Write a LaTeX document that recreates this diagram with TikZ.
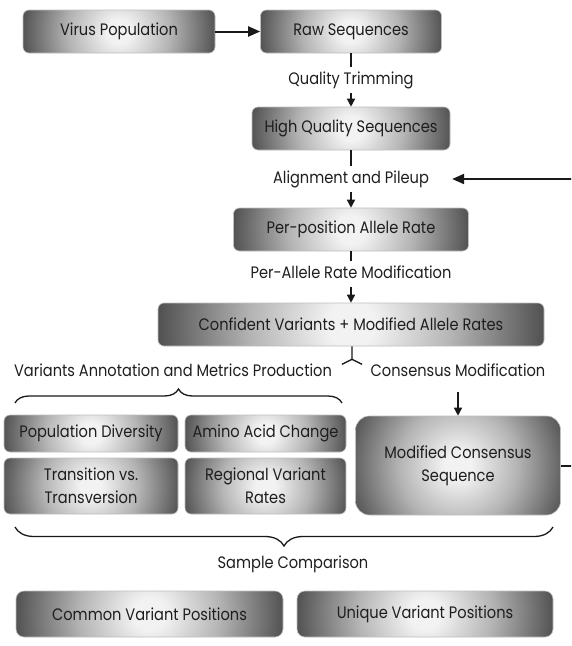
\documentclass[tikz,border=0pt]{standalone}
\usepackage{fontspec}
\setmainfont[FakeStretch=0.88]{Poppins}
\usetikzlibrary{arrows.meta,calc,decorations.pathreplacing}
\definecolor{shA}{HTML}{F2F2F2}
\definecolor{shB}{HTML}{B4B4B4}
\definecolor{shC}{HTML}{505050}
\definecolor{txt}{HTML}{1E1E1E}
\pgfdeclareradialshading{boxshade}{\pgfpoint{0bp}{0bp}}{color(0bp)=(shA); color(3bp)=(shA); color(13bp)=(shB); color(25bp)=(shC); color(50bp)=(shC)}
\tikzset{
  box/.style={rounded corners=6pt, draw=black!25, line width=0.6pt, text=txt, align=center, inner sep=0pt,
    path picture={\shade[shading=boxshade] let \p1=($(path picture bounding box.north east)-(path picture bounding box.center)$), \n1={veclen(\x1,\y1)} in (path picture bounding box.center) circle[radius=\n1];}},
  bx/.style n args={2}{box, minimum width=#1pt, minimum height=#2pt},
  lbl/.style={text=txt, inner xsep=2pt, inner ysep=0pt, minimum height=26pt, text height=12pt, text depth=3.5pt},
  ln/.style={line width=1.4pt, draw=black!90},
  conn/.style={ln, -{Triangle[length=8pt,width=8pt]}},
  connbig/.style={line width=2pt, draw=black!90, -{Triangle[length=12pt,width=10pt]}},
  brc/.style={line width=1.3pt, draw=black!90, decorate},
}
\begin{document}
\begin{tikzpicture}[x=1pt,y=-1pt, font=\fontsize{16.6}{23}\selectfont]
\useasboundingbox (0,0) rectangle (571,646);
\clip (0,0) rectangle (571,646);
% boxes
\node[bx={192}{43}] (virus) at (119,31.5) {Virus Population};
\node[bx={181}{43}] (raw) at (351,31.5) {Raw Sequences};
\node[bx={198}{43}] (hq) at (351,128.5) {High Quality Sequences};
\node[bx={235}{43}] (pp) at (351,229.5) {Per-position Allele Rate};
\node[bx={386}{43}] (conf) at (351,324.5) {Confident Variants + Modified Allele Rates};
\node[bx={174}{37}] (popdiv) at (91,433.5) {Population Diversity};
\node[bx={161}{37}] (amino) at (265.5,433.5) {Amino Acid Change};
\node[bx={174}{56}] (trans) at (91,486) {Transition vs.\\Transversion};
\node[bx={161}{56}] (reg) at (265.5,486) {Regional Variant\\Rates};
\node[bx={205}{99}, rounded corners=14pt] (mcs) at (458,465.5) {Modified Consensus\\Sequence};
\node[bx={267}{46}, rounded corners=8pt] (common) at (149.5,614) {Common Variant Positions};
\node[bx={256}{46}, rounded corners=8pt] (unique) at (425,614) {Unique Variant Positions};
% labels
\node[lbl] (qt) at (351,80) {Quality Trimming};
\node[lbl] (align) at (351,179) {Alignment and Pileup};
\node[lbl] (pam) at (351,274) {Per-Allele Rate Modification};
\node[lbl] (vamp) at (173,372) {Variants Annotation and Metrics Production};
\node[lbl] (cons) at (458,372) {Consensus Modification};
\node[lbl] (samp) at (293,564) {Sample Comparison};
% connectors
\draw[connbig] (virus.east) -- (raw.west);
\draw[ln] (raw.south) -- (qt.north);
\draw[conn] (qt.south) -- (hq.north);
\draw[ln] (hq.south) -- (align.north);
\draw[conn] (align.south) -- (pp.north);
\draw[ln] (pp.south) -- (pam.north);
\draw[conn] (pam.south) -- (conf.south |- conf.north);
\coordinate (fork) at ($(conf.south)+(1,13)$);
\draw[ln] ($(conf.south)+(1,0)$) -- (fork) -- ++(-10,5);
\draw[ln] (fork) -- ++(10,5);
\draw[conn, shorten <=7pt] (cons.south) -- (cons.south |- mcs.north);
\draw[connbig, shorten >=21pt] (mcs.east) -- ++(20,0) |- (align.east);
% braces
\coordinate (b1l) at (15,403);
\coordinate (b1r) at (342,403);
\draw[brc, decoration={brace, amplitude=14pt}] (b1l) -- (b1r);
\coordinate (b2l) at (15,527);
\coordinate (b2r) at (553,527);
\draw[brc, decoration={brace, amplitude=19pt}] (b2r) -- (b2l);
\end{tikzpicture}
\end{document}
